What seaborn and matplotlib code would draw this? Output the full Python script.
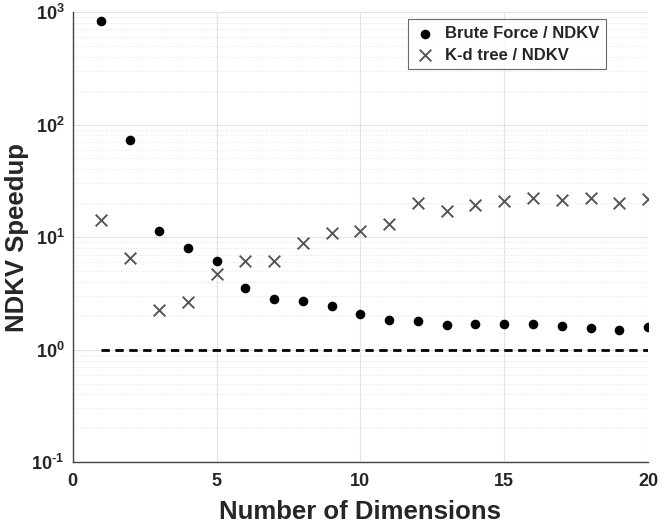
import matplotlib
matplotlib.use("Agg")
import matplotlib.pyplot as plt
import matplotlib.ticker as mticker
import numpy as np
import pandas as pd
import seaborn as sns

# Values
dims = list(range(1, 21))
brute_speedup = [832, 73.6, 11.3, 7.94, 6.08, 3.5, 2.82, 2.72, 2.46, 2.07,
                 1.82, 1.81, 1.65, 1.68, 1.68, 1.68, 1.61, 1.56, 1.49, 1.60]
kdtree_speedup = [14.1, 6.56, 2.27, 2.63, 4.74, 6.08, 6.08, 8.85, 10.8, 11.3,
                  13.0, 20.0, 16.9, 19.4, 21.1, 22.1, 21.5, 22.1, 20.3, 21.8]
baseline_x = [1, 20]
baseline_y = [1, 1]

sns.set_style("white")
plt.rcParams['font.family'] = ['Liberation Sans', 'DejaVu Sans']
plt.rcParams['font.weight'] = 'bold'
plt.rcParams['mathtext.fontset'] = 'custom'
plt.rcParams['mathtext.rm'] = 'Liberation Sans:bold'
plt.rcParams['mathtext.bf'] = 'Liberation Sans:bold'
plt.rcParams['mathtext.default'] = 'bf'

txt = '#262626'
fig = plt.figure(figsize=(6.64, 5.24), dpi=100)
ax = fig.add_axes([0.1095, 0.118, 0.8665, 0.859])

df_bf = pd.DataFrame({'dims': dims, 'speedup': brute_speedup})
df_kd = pd.DataFrame({'dims': dims, 'speedup': kdtree_speedup})

sns.scatterplot(data=df_bf, x='dims', y='speedup', ax=ax, marker='o', s=48,
                color='black', edgecolor='black', linewidth=0,
                label='Brute Force / NDKV', zorder=3)
sns.scatterplot(data=df_kd, x='dims', y='speedup', ax=ax, marker='x', s=70,
                color='#555555', linewidth=1.4,
                label='K-d tree / NDKV', zorder=3)
sns.lineplot(x=baseline_x, y=baseline_y, ax=ax, color='black', linewidth=2,
             linestyle=(0, (3, 2)), zorder=2)

ax.set_yscale('log')
ax.set_xlim(0, 20)
ax.set_ylim(0.1, 1000)
ax.set_xticks([0, 5, 10, 15, 20])
ax.yaxis.set_major_locator(mticker.LogLocator(base=10, numticks=10))
ax.yaxis.set_major_formatter(mticker.FuncFormatter(
    lambda v, p: r'$10^{%s}$' % (r'\text{-}%d' % -round(np.log10(v)) if v < 1 else '%d' % round(np.log10(v)))))
ax.yaxis.set_minor_locator(mticker.LogLocator(base=10, subs=np.arange(2, 10), numticks=20))
ax.yaxis.set_minor_formatter(mticker.NullFormatter())

ax.grid(True, which='major', color='#e3e3e3', linewidth=0.8)
ax.grid(True, which='minor', axis='y', color='#dcdcdc', linewidth=0.6, linestyle=(0, (1, 2)))
ax.set_axisbelow(True)

for s in ['top', 'right']:
    ax.spines[s].set_visible(False)
for s in ['left', 'bottom']:
    ax.spines[s].set_color('#444444')
    ax.spines[s].set_linewidth(1.0)

ax.tick_params(axis='both', which='major', labelsize=13, colors=txt, direction='in',
               length=4, width=0.8, pad=8)
ax.tick_params(axis='y', which='major', pad=6)
ax.tick_params(axis='y', which='minor', direction='in', length=2, width=0.6, colors='#444444')

ax.set_xlabel('Number of Dimensions', fontsize=18.5, fontweight='bold', color=txt, labelpad=7)
ax.set_ylabel('NDKV Speedup', fontsize=18.5, fontweight='bold', color=txt, labelpad=2)

leg = ax.legend(loc='upper right', bbox_to_anchor=(0.927, 0.984), borderaxespad=0,
                fontsize=12, frameon=True, fancybox=False, edgecolor='#444444',
                handletextpad=0.6, borderpad=0.4, labelspacing=0.4, handlelength=1.2)
leg.get_frame().set_linewidth(0.8)
for t in leg.get_texts():
    t.set_color(txt)

fig.savefig('out.png', dpi=100)
